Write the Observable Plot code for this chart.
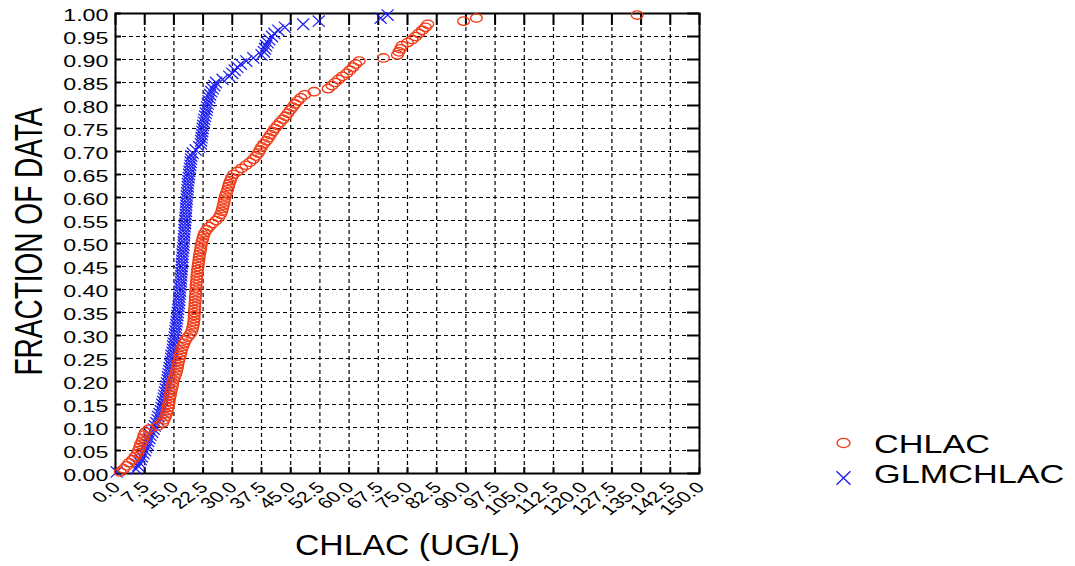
<!DOCTYPE html>
<html><head><meta charset="utf-8">
<script src="https://cdn.jsdelivr.net/npm/d3@7"></script>
<script src="https://cdn.jsdelivr.net/npm/@observablehq/plot@0.6"></script>
<style>html,body{margin:0;padding:0;background:#fff;} svg{display:block}</style>
</head><body><div id="chart"></div>
<script>
// Sorted sample values (UG/L); fraction = plotting position of each rank
const chlac = [
 1.2, 2.1, 2.9, 3.5, 4.4, 5.0, 5.6, 5.9, 6.2, 6.4,
 6.8, 7.1, 7.3, 7.7, 8.6, 10.9, 12.1, 12.5, 12.8, 13.1,
 13.3, 13.5, 13.6, 13.8, 13.9, 14.1, 14.2, 14.4, 14.6, 14.7,
 14.9, 15.2, 15.5, 15.7, 15.9, 16.0, 16.2, 16.4, 16.6, 16.8,
 17.0, 17.3, 17.6, 18.0, 18.6, 19.2, 19.6, 19.8, 20.0, 20.1,
 20.2, 20.2, 20.3, 20.3, 20.4, 20.4, 20.5, 20.5, 20.6, 20.6,
 20.7, 20.7, 20.8, 20.9, 20.9, 21.0, 21.1, 21.2, 21.3, 21.4,
 21.5, 21.6, 21.8, 21.9, 22.0, 22.2, 22.4, 22.6, 22.9, 23.4,
 24.1, 24.9, 25.8, 26.5, 27.0, 27.3, 27.5, 27.7, 27.9, 28.0,
 28.2, 28.5, 28.8, 29.0, 29.2, 29.5, 29.8, 30.3, 31.3, 32.4,
 33.5, 34.5, 35.4, 36.1, 36.7, 37.1, 37.5, 38.1, 38.8, 39.3,
 39.8, 40.4, 40.9, 41.6, 42.3, 43.0, 43.7, 44.3, 44.9, 45.5,
 46.1, 46.8, 47.6, 48.6, 51.0, 54.6, 55.6, 56.4, 57.3, 58.3,
 59.4, 60.2, 61.0, 61.7, 62.6, 68.8, 72.4, 72.8, 73.2, 73.6,
 75.0, 76.2, 77.1, 77.9, 78.8, 79.6, 80.2, 89.4, 92.7, 134.0
];
const glmchlac = [
 0.3, 5.3, 5.8, 6.2, 6.5, 6.8, 7.2, 7.6, 7.9, 8.1,
 8.4, 8.7, 9.0, 9.4, 9.8, 10.1, 10.5, 10.8, 11.0, 11.3,
 11.6, 11.8, 12.0, 12.2, 12.4, 12.5, 12.7, 12.9, 13.1, 13.2,
 13.4, 13.5, 13.6, 13.8, 13.9, 14.1, 14.2, 14.3, 14.4, 14.6,
 14.7, 14.8, 14.9, 15.1, 15.2, 15.3, 15.4, 15.5, 15.6, 15.7,
 15.8, 15.9, 16.0, 16.1, 16.2, 16.3, 16.4, 16.4, 16.5, 16.6,
 16.6, 16.7, 16.8, 16.8, 16.9, 16.9, 17.0, 17.0, 17.1, 17.1,
 17.2, 17.2, 17.3, 17.4, 17.5, 17.5, 17.6, 17.6, 17.7, 17.7,
 17.8, 17.9, 17.9, 18.0, 18.0, 18.1, 18.1, 18.2, 18.2, 18.3,
 18.3, 18.4, 18.5, 18.6, 18.6, 18.7, 18.8, 18.9, 19.0, 19.1,
 19.2, 19.3, 19.4, 19.5, 19.8, 20.6, 21.5, 21.9, 22.0, 22.1,
 22.2, 22.3, 22.4, 22.5, 22.7, 22.8, 23.0, 23.2, 23.4, 23.5,
 23.7, 23.9, 24.1, 24.3, 24.6, 25.0, 25.4, 25.8, 27.5, 29.2,
 30.0, 30.6, 31.3, 32.2, 33.6, 35.4, 37.5, 38.1, 38.4, 38.7,
 39.1, 39.5, 40.2, 40.8, 41.8, 43.5, 48.2, 52.2, 68.1, 69.9
];
const seriesNames = ["CHLAC", "GLMCHLAC"];
const xTicks = [0, 7.5, 15, 22.5, 30, 37.5, 45, 52.5, 60, 67.5, 75, 82.5, 90, 97.5, 105, 112.5, 120, 127.5, 135, 142.5, 150];
const xTickLabels = ["0.0","7.5","15.0","22.5","30.0","37.5","45.0","52.5","60.0","67.5","75.0","82.5","90.0","97.5","105.0","112.5","120.0","127.5","135.0","142.5","150.0"];
const yTicks = [0, 0.05, 0.10, 0.15, 0.20, 0.25, 0.30, 0.35, 0.40, 0.45, 0.50, 0.55, 0.60, 0.65, 0.70, 0.75, 0.80, 0.85, 0.90, 0.95, 1.00];
const yTickLabels = ["0.00","0.05","0.10","0.15","0.20","0.25","0.30","0.35","0.40","0.45","0.50","0.55","0.60","0.65","0.70","0.75","0.80","0.85","0.90","0.95","1.00"];
const xTitle = "CHLAC (UG/L)";
const yTitle = "FRACTION OF DATA";

const RED = "#f23a16", BLUE = "#1f1ff2";
const ellipse = { draw(ctx, size) {
  const r = Math.sqrt(size / Math.PI), rx = r * 1.4, ry = r, k = 0.5523;
  ctx.moveTo(rx, 0);
  ctx.bezierCurveTo(rx, k*ry, k*rx, ry, 0, ry);
  ctx.bezierCurveTo(-k*rx, ry, -rx, k*ry, -rx, 0);
  ctx.bezierCurveTo(-rx, -k*ry, -k*rx, -ry, 0, -ry);
  ctx.bezierCurveTo(k*rx, -ry, rx, -k*ry, rx, 0);
  ctx.closePath();
}};
const cross = { draw(ctx, size) {
  const r = Math.sqrt(size / Math.PI), w = r, h = r * 0.95;
  ctx.moveTo(-w, -h); ctx.lineTo(w, h);
  ctx.moveTo(w, -h); ctx.lineTo(-w, h);
}};

const ecdf = (vals, name) => vals.map((v, i) => ({series: name, value: v, fraction: (i + 0.5) / vals.length}));
const redRows = ecdf(chlac, seriesNames[0]);
const blueRows = ecdf(glmchlac, seriesNames[1]);

const W = 1075, H = 566, ML = 115, MR = 376, MT = 13, MB = 93;
const innerW = W - ML - MR, innerH = H - MT - MB;

const chart = Plot.plot({
  width: W, height: H, marginLeft: ML, marginRight: MR, marginTop: MT, marginBottom: MB,
  style: {fontFamily: "'Liberation Sans', Arial, sans-serif", background: "#fff", overflow: "visible", color: "#000"},
  x: {domain: [0, 150], axis: null},
  y: {domain: [0, 1], axis: null},
  marks: [
    Plot.ruleX(xTicks, {x: d => d, stroke: "#000", strokeWidth: 1.2, strokeDasharray: "4,3"}),
    Plot.ruleY(yTicks, {y: d => d, stroke: "#000", strokeWidth: 1.2, strokeDasharray: "4,3"}),
    Plot.tickX(xTicks, {x: d => d, insetBottom: innerH - 12, stroke: "#000", strokeWidth: 2}),
    Plot.tickX(xTicks, {x: d => d, insetTop: innerH - 6, stroke: "#000", strokeWidth: 2}),
    Plot.tickY(yTicks, {y: d => d, insetLeft: innerW - 12, stroke: "#000", strokeWidth: 2}),
    Plot.tickY(yTicks, {y: d => d, insetRight: innerW - 6, stroke: "#000", strokeWidth: 2}),
    Plot.frame({stroke: "#000", strokeWidth: 2}),
    Plot.dot(blueRows, {x: "value", y: "fraction", symbol: cross, r: 6, stroke: BLUE, strokeWidth: 1.25, fill: "none"}),
    Plot.dot(redRows, {x: "value", y: "fraction", symbol: ellipse, r: 4.2, stroke: RED, strokeWidth: 1.3, fill: "none"}),
    Plot.text(yTicks, {y: d => d, frameAnchor: "left", text: (d, i) => yTickLabels[i], textAnchor: "end", dx: -7, dy: 2.5, fontSize: 17, fill: "#000"}),
    Plot.text(xTicks, {x: d => d, frameAnchor: "bottom", text: (d, i) => xTickLabels[i], textAnchor: "end", dx: 6, dy: 15, fontSize: 15.5, fill: "#000"})
  ]
});
document.getElementById("chart").appendChild(chart);

function stretchText(nodes, sx, rot) {
  nodes.each(function() {
    let t = this.getAttribute("transform") || "";
    t = t.replace(/\s*rotate\([^)]*\)/, "");
    if (!/translate/.test(t)) {
      const x = +this.getAttribute("x") || 0, y = +this.getAttribute("y") || 0;
      this.removeAttribute("x"); this.removeAttribute("y");
      t = `translate(${x},${y})`;
    }
    this.setAttribute("transform", `${t} scale(${sx},1)${rot ? ` rotate(${rot})` : ""}`);
  });
}
const svg = d3.select(chart);
const ySet = new Set(yTickLabels), xSet = new Set(xTickLabels);
const allText = svg.selectAll("text");
stretchText(allText.filter(function() { return ySet.has(this.textContent); }), 1.37, 0);
stretchText(allText.filter(function() { return xSet.has(this.textContent); }), 1.37, -45);

svg.append("text").attr("transform", "translate(42,241.5) scale(1.37,1) rotate(-90)")
  .attr("text-anchor", "middle").attr("font-size", 28).attr("fill", "#000").text(yTitle);
svg.append("text").attr("x", 407.5).attr("y", 555).attr("text-anchor", "middle")
  .attr("font-size", 30).attr("textLength", 225).attr("lengthAdjust", "spacingAndGlyphs")
  .attr("fill", "#000").text(xTitle);

const lg = svg.append("g").attr("aria-label", "legend").attr("text-anchor", "start");
lg.append("path").attr("transform", "translate(843.5,443)").attr("d", d3.symbol(ellipse, Math.PI * 4.6 * 4.6)())
  .attr("fill", "none").attr("stroke", RED).attr("stroke-width", 1.4);
lg.append("text").attr("transform", "translate(874,453) scale(1.37,1)").attr("text-anchor", "start").attr("font-size", 25).attr("fill", "#000").text(seriesNames[0]);
lg.append("path").attr("transform", "translate(843.5,478)").attr("d", d3.symbol(cross, Math.PI * 7 * 7)())
  .attr("fill", "none").attr("stroke", BLUE).attr("stroke-width", 1.4);
lg.append("text").attr("transform", "translate(874,483) scale(1.37,1)").attr("text-anchor", "start").attr("font-size", 25).attr("fill", "#000").text(seriesNames[1]);
</script></body></html>
